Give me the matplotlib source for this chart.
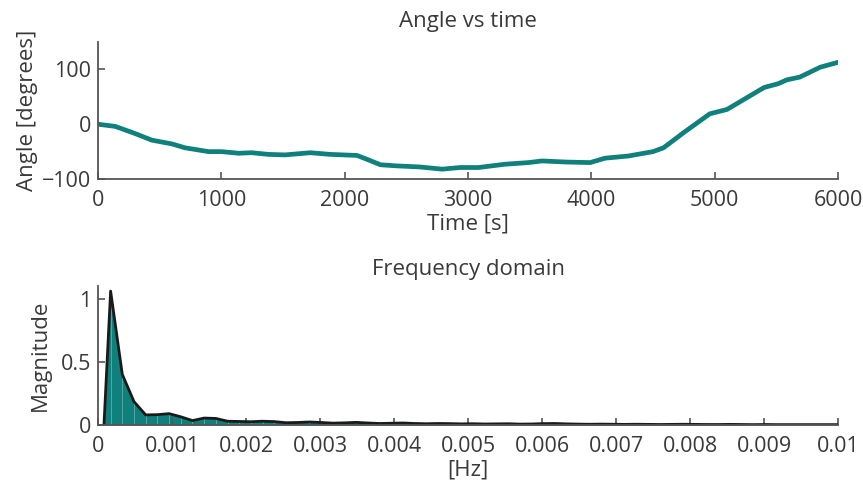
import numpy as np
import matplotlib.pyplot as plt

# Angle trace
time_s = [0, 140, 300, 435, 600, 705, 895, 1000, 1140, 1245, 1380, 1515, 1720, 1880,
          2100, 2180, 2290, 2420, 2610, 2790, 2935, 3085, 3300, 3490, 3600, 3790, 3990,
          4110, 4300, 4500, 4585, 4750, 4960, 5100, 5400, 5515, 5585, 5690, 5855, 6000]
angle_deg = [0, -4, -17, -29, -36, -43, -50, -50, -53, -52, -55, -56, -52, -55,
             -57, -64, -74, -76, -78, -82, -79, -79, -73, -70, -67, -69, -70,
             -62, -58, -50, -43, -15, 19, 27, 67, 74, 81, 86, 104, 113]

# Spectrum
f0 = 0.00008
df = 0.000158
magnitude = [0.0, 1.06, 0.40, 0.185, 0.08, 0.082, 0.09, 0.065, 0.035, 0.055,
             0.052, 0.03, 0.028, 0.026, 0.03, 0.027, 0.018, 0.02, 0.024, 0.02,
             0.015, 0.017, 0.021, 0.016, 0.012, 0.014, 0.016, 0.012, 0.01, 0.012,
             0.011, 0.009, 0.01, 0.008, 0.009, 0.01, 0.007, 0.008, 0.011, 0.012,
             0.009, 0.007, 0.006, 0.007, 0.006, 0.005, 0.006, 0.005, 0.004, 0.005,
             0.006, 0.005, 0.004, 0.004, 0.005, 0.004, 0.003, 0.004, 0.003, 0.003,
             0.003, 0.003, 0.003, 0.003, 0.003]
freq = np.concatenate(([f0], 0.00017 + df*np.arange(len(magnitude)-1)))

teal = '#0f807c'
txt = '#3a3a3a'
fs = 16
plt.rcParams['font.family'] = ['Open Sans', 'DejaVu Sans']
plt.rcParams['font.size'] = fs
plt.rcParams['text.color'] = txt
plt.rcParams['axes.labelcolor'] = txt
plt.rcParams['xtick.color'] = '#555555'
plt.rcParams['ytick.color'] = '#555555'
plt.rcParams['xtick.labelcolor'] = txt
plt.rcParams['ytick.labelcolor'] = txt

fig = plt.figure(figsize=(8.63, 4.91), dpi=100)

def style(ax):
    for s in ['top', 'right']:
        ax.spines[s].set_visible(False)
    for s in ['left', 'bottom']:
        ax.spines[s].set_color('#555555')
        ax.spines[s].set_linewidth(1.3)
    ax.tick_params(direction='in', length=5, width=1.2, labelsize=fs - 0.5)
    ax.tick_params(axis='x', pad=8)
    ax.tick_params(axis='y', pad=5)

# Top: angle vs time
ax1 = fig.add_axes([0.1136, 0.6354, 0.8575, 0.279])
ax1.plot(time_s, angle_deg, color=teal, lw=3.4, solid_capstyle='round')
ax1.set_xlim(0, 6000)
ax1.set_ylim(-100, 150)
ax1.set_xticks([0, 1000, 2000, 3000, 4000, 5000, 6000])
ax1.set_yticks([-100, 0, 100])
ax1.set_xlabel("Time [s]", fontsize=fs, labelpad=2)
ax1.set_ylabel("Angle [degrees]", fontsize=fs, labelpad=3)
ax1.set_title("Angle vs time", fontsize=fs, pad=11)
style(ax1)

# Bottom: frequency domain
ax2 = fig.add_axes([0.1136, 0.1344, 0.8575, 0.2831])
ax2.fill_between(freq, magnitude, 0, color=teal, lw=0)
ax2.vlines(freq[1:], 0, magnitude[1:], color='white', lw=0.6, alpha=0.35)
ax2.plot(freq, magnitude, color='#1a1a1a', lw=2)
ax2.set_xlim(0, 0.01)
ax2.set_ylim(0, 1.1)
ax2.set_xticks(np.round(np.arange(0, 0.0101, 0.001), 3))
ax2.set_xticklabels(['0'] + ['%g' % v for v in np.round(np.arange(0.001, 0.0101, 0.001), 3)])
ax2.set_yticks([0, 0.5, 1])
ax2.set_yticklabels(['0', '0.5', '1'])
ax2.set_xlabel("[Hz]", fontsize=fs, labelpad=2)
ax2.set_ylabel("Magnitude", fontsize=fs, labelpad=7)
ax2.set_title("Frequency domain", fontsize=fs, pad=8)
style(ax2)

plt.savefig("out.png", dpi=100)
